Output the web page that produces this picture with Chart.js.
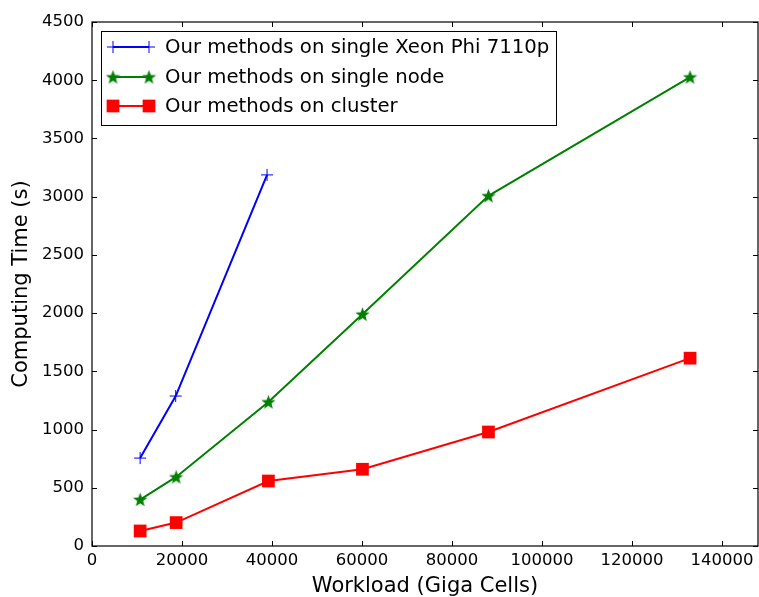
<!DOCTYPE html>
<html>
<head>
<meta charset="utf-8">
<script src="https://cdn.jsdelivr.net/npm/chart.js@4/dist/chart.umd.min.js"></script>
<style>
html,body{margin:0;padding:0;background:#fff;}
#wrap{width:759px;height:597px;}
</style>
</head>
<body>
<div id="wrap"><canvas id="c" width="759" height="597"></canvas></div>
<script>
// ---- data ----
const xeonX = [10700, 18600, 38900];
const xeonY = [755, 1288, 3187];
const nodeX = [10700, 18700, 39200, 60100, 88100, 132900];
const nodeY = [399, 593, 1237, 1990, 3007, 4027];
const clusterX = [10700, 18700, 39200, 60100, 88100, 132900];
const clusterY = [129, 201, 558, 659, 979, 1613];
const seriesLabels = [
  'Our methods on single Xeon Phi 7110p',
  'Our methods on single node',
  'Our methods on cluster'
];
const xTicks = [0, 20000, 40000, 60000, 80000, 100000, 120000, 140000];
const yTicks = [0, 500, 1000, 1500, 2000, 2500, 3000, 3500, 4000, 4500];
const xTitle = 'Workload (Giga Cells)';
const yTitle = 'Computing Time (s)';

const FONT = "'DejaVu Sans', sans-serif";

function pts(xs, ys) { return xs.map((x, i) => ({x: x, y: ys[i]})); }

// filled five-point star marker
function makeStar(color, size) {
  const c = document.createElement('canvas');
  c.width = size; c.height = size;
  const g = c.getContext('2d');
  const cx = size / 2, cy = size / 2 + 0.6, R = size / 2, r = R * 0.42;
  g.beginPath();
  for (let i = 0; i < 10; i++) {
    const rad = (i % 2 === 0) ? R : r;
    const a = -Math.PI / 2 + i * Math.PI / 5;
    const px = cx + rad * Math.cos(a), py = cy + rad * Math.sin(a);
    if (i === 0) g.moveTo(px, py); else g.lineTo(px, py);
  }
  g.closePath();
  g.fillStyle = color;
  g.fill();
  return c;
}
const starImg = makeStar('#008000', 15);

const frame = {
  id: 'frame',
  afterDraw(chart) {
    const ctx = chart.ctx;
    const a = chart.chartArea;
    const xs = chart.scales.x, ys = chart.scales.y;
    ctx.save();
    ctx.strokeStyle = '#000';
    ctx.lineWidth = 1.2;
    ctx.strokeRect(a.left, a.top, a.right - a.left, a.bottom - a.top);
    ctx.lineWidth = 1;
    const tl = 5;
    ctx.beginPath();
    xTicks.forEach(v => {
      const px = Math.round(xs.getPixelForValue(v)) + 0.5;
      ctx.moveTo(px, a.bottom); ctx.lineTo(px, a.bottom - tl);
      ctx.moveTo(px, a.top); ctx.lineTo(px, a.top + tl);
    });
    yTicks.forEach(v => {
      const py = Math.round(ys.getPixelForValue(v)) + 0.5;
      ctx.moveTo(a.left, py); ctx.lineTo(a.left + tl, py);
      ctx.moveTo(a.right, py); ctx.lineTo(a.right - tl, py);
    });
    ctx.stroke();

    // legend box
    const lx = a.left + 9, ly = a.top + 9, lw = 455, lh = 94;
    ctx.fillStyle = '#fff';
    ctx.fillRect(lx, ly, lw, lh);
    ctx.strokeStyle = '#000';
    ctx.lineWidth = 1;
    ctx.strokeRect(lx + 0.5, ly + 0.5, lw, lh);
    const rows = [ly + 16, ly + 46, ly + 75];
    chart.data.datasets.forEach((ds, i) => {
      const y = rows[i];
      const x1 = lx + 12, x2 = lx + 48;
      ctx.strokeStyle = ds.borderColor;
      ctx.lineWidth = ds.borderWidth;
      ctx.beginPath(); ctx.moveTo(x1, y); ctx.lineTo(x2, y); ctx.stroke();
      [x1, x2].forEach(px => {
        ctx.fillStyle = ds.pointBackgroundColor;
        ctx.strokeStyle = ds.pointBorderColor;
        ctx.lineWidth = ds.pointBorderWidth || 0.01;
        Chart.helpers.drawPoint(ctx, {
          pointStyle: ds.pointStyle, radius: ds.pointRadius, rotation: 0,
          borderWidth: ds.pointBorderWidth
        }, px, y);
      });
      ctx.fillStyle = '#000';
      ctx.font = '19.7px ' + FONT;
      ctx.textBaseline = 'middle';
      ctx.textAlign = 'left';
      ctx.fillText(ds.label, lx + 64, y + 1);
    });
    ctx.restore();
  }
};

new Chart(document.getElementById('c'), {
  type: 'line',
  data: {
    datasets: [
      {
        label: seriesLabels[0], data: pts(xeonX, xeonY),
        borderColor: '#0000ff', borderWidth: 2,
        pointStyle: 'cross', pointRadius: 6, pointBorderWidth: 1,
        pointBorderColor: '#0000ff', pointBackgroundColor: '#0000ff'
      },
      {
        label: seriesLabels[1], data: pts(nodeX, nodeY),
        borderColor: '#008000', borderWidth: 2,
        pointStyle: starImg, pointRadius: 8, pointBorderWidth: 0,
        pointBorderColor: '#008000', pointBackgroundColor: '#008000'
      },
      {
        label: seriesLabels[2], data: pts(clusterX, clusterY),
        borderColor: '#ff0000', borderWidth: 2,
        pointStyle: 'rect', pointRadius: 9, pointBorderWidth: 0,
        pointBorderColor: '#ff0000', pointBackgroundColor: '#ff0000'
      }
    ]
  },
  options: {
    responsive: false,
    animation: false,
    devicePixelRatio: 1,
    layout: { autoPadding: false, padding: { top: 22, right: 1, left: 0, bottom: 0 } },
    plugins: { legend: { display: false }, tooltip: { enabled: false } },
    scales: {
      x: {
        type: 'linear', min: 0, max: 148000,
        afterBuildTicks: s => { s.ticks = xTicks.map(v => ({value: v})); },
        afterFit: s => { s.height = 51; s.paddingRight = 0; s.paddingLeft = 0; },
        grid: { display: false }, border: { display: false },
        ticks: { color: '#000', font: { family: FONT, size: 16.5 }, padding: -3, maxRotation: 0,
                 callback: v => String(v) },
        title: { display: true, text: xTitle, color: '#000', font: { family: FONT, size: 21 },
                 padding: { top: 0, bottom: -2 } }
      },
      y: {
        type: 'linear', min: 0, max: 4500,
        afterBuildTicks: s => { s.ticks = yTicks.map(v => ({value: v})); },
        afterFit: s => { s.width = 92; s.paddingTop = 0; s.paddingBottom = 0; },
        grid: { display: false }, border: { display: false },
        ticks: { color: '#000', font: { family: FONT, size: 16.5 }, padding: 0,
                 callback: v => String(v) },
        title: { display: true, text: yTitle, color: '#000', font: { family: FONT, size: 21 },
                 padding: { top: 9, bottom: 0 } }
      }
    }
  },
  plugins: [frame]
});
</script>
</body>
</html>
